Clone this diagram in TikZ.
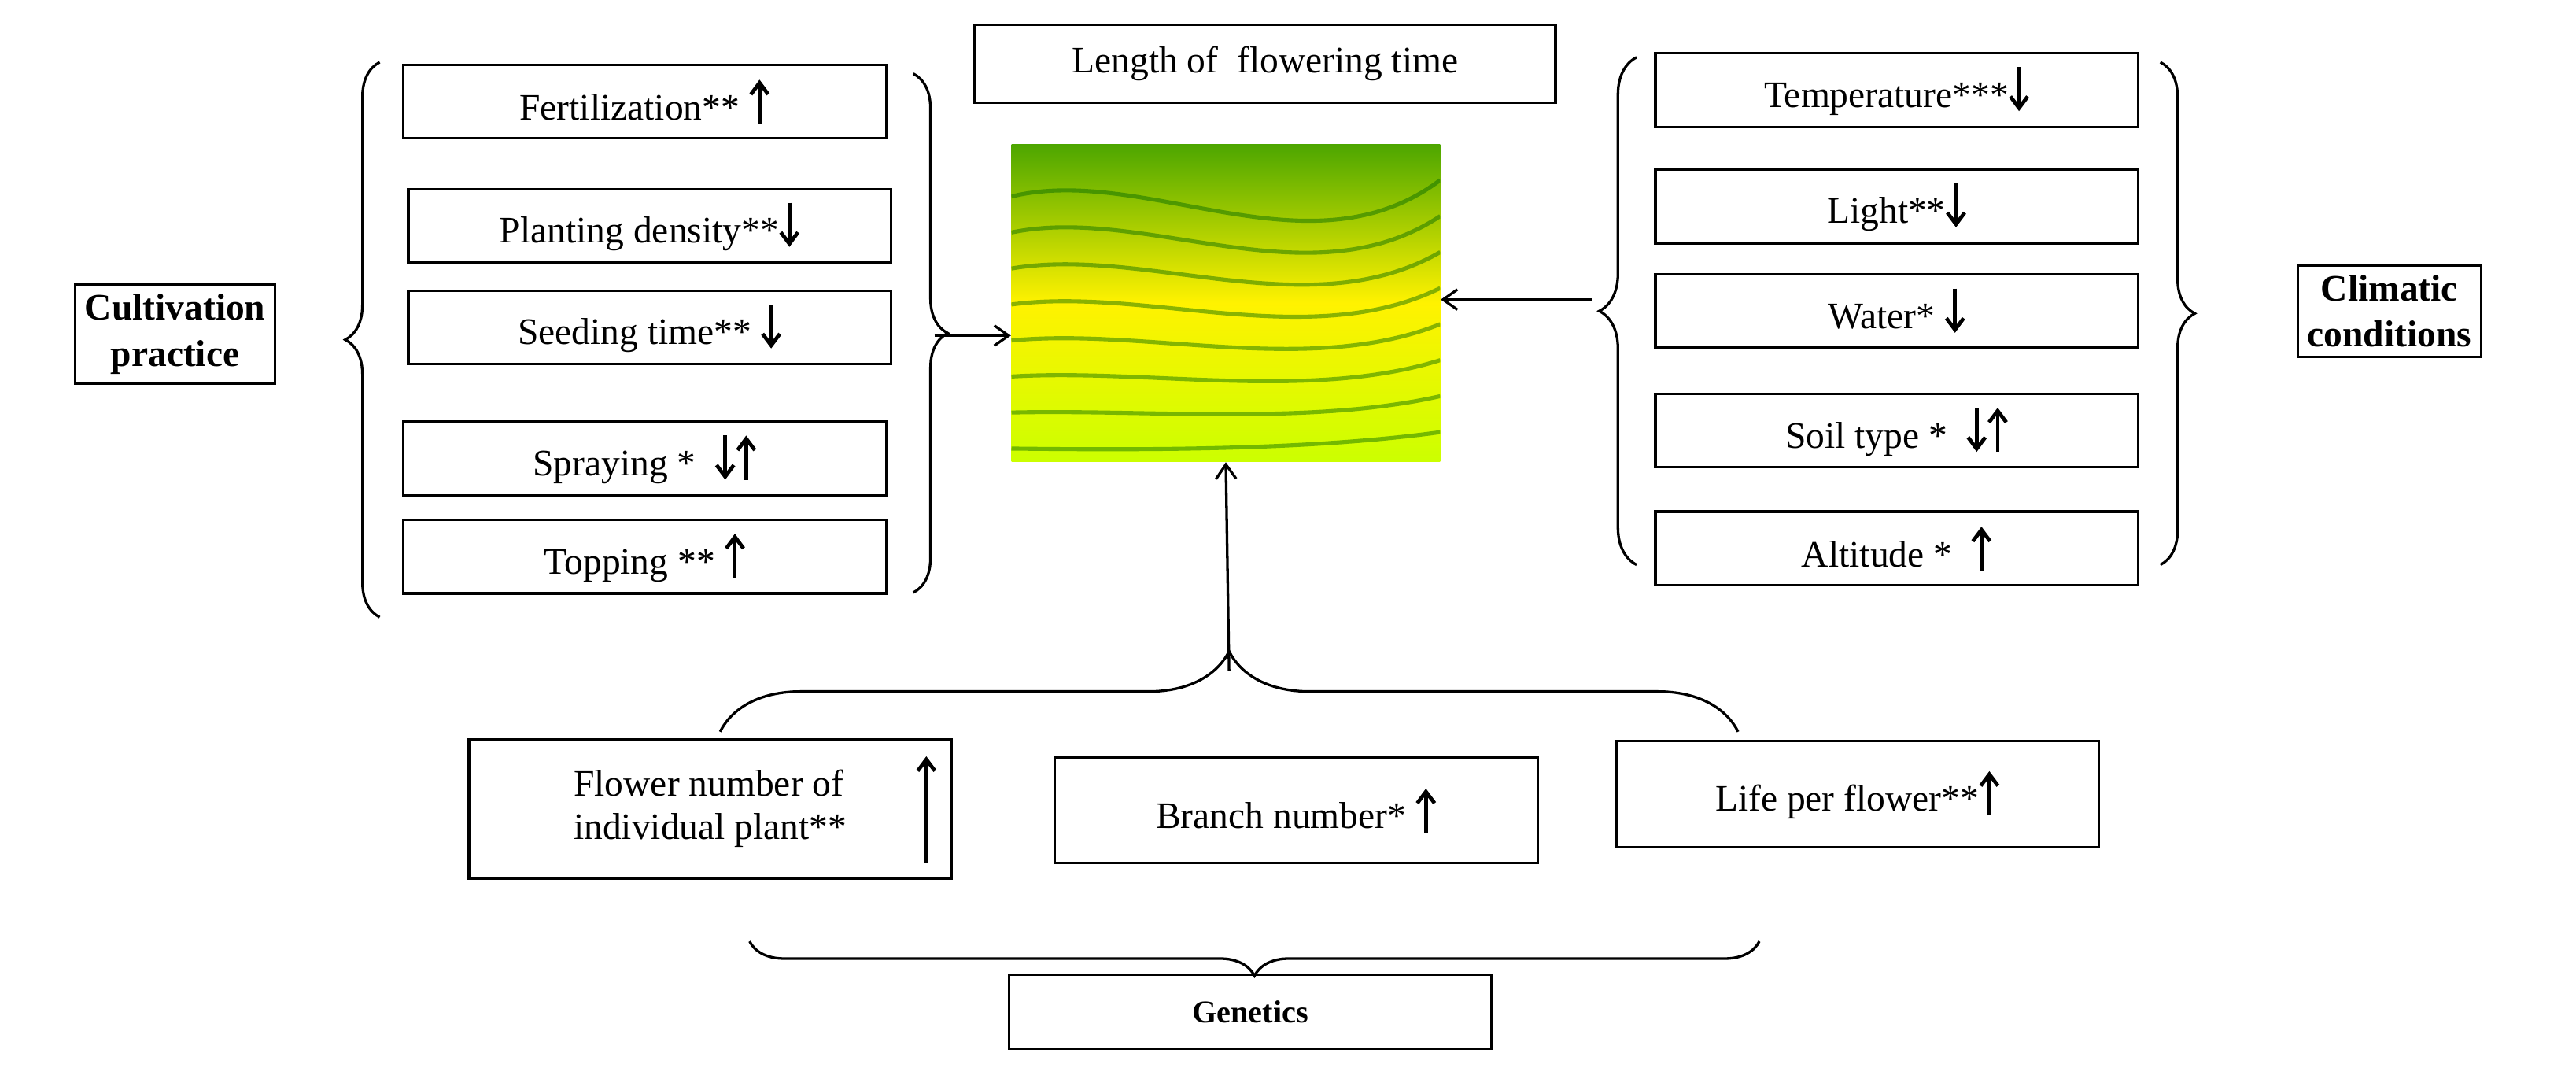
\documentclass[tikz,border=0pt]{standalone}
\usepackage{fontspec}
\setmainfont{Liberation Serif}
\usetikzlibrary{decorations.pathreplacing,arrows.meta}
\begin{document}
\begin{tikzpicture}[x=0.02cm,y=-0.02cm,
  box/.style={draw,line width=0.9pt,minimum width=5.9cm,minimum height=0.9cm,inner sep=2pt,font=\fontsize{13}{15}\selectfont},
  lbl/.style={draw,line width=0.9pt,align=center,font=\bfseries\fontsize{13}{16}\selectfont},
  br/.style={decorate,decoration={brace,amplitude=#1},line width=0.9pt},
  arr/.style={-{Straight Barb[length=5pt,width=7pt]},line width=0.9pt},
  sarr/.style={-{Straight Barb[length=4pt,width=6pt]},line width=1.3pt}]
\useasboundingbox (0,0) rectangle (1574,659);
\def\up{\tikz[baseline=-2pt,x=1cm,y=1cm]\draw[sarr] (0,-0.12)--(0,0.42);}
\def\dn{\tikz[baseline=-2pt,x=1cm,y=1cm]\draw[sarr] (0,0.42)--(0,-0.12);}
% title
\node[box,minimum width=7.1cm,minimum height=0.95cm] (title) at (773,39) {Length of\ \ flowering time};
% photo
\node[minimum width=5.24cm,minimum height=3.88cm,inner sep=0,
  top color=green!50!black!70!yellow,bottom color=yellow!80!green,middle color=yellow!90!orange] (photo) at (749,185) {};
\begin{scope}
\clip (618,88) rectangle (880,282);
\foreach \k in {0,...,7}{
  \draw[green!40!black,line width=1.4pt,opacity=0.45] (618,{120+\k*22}) .. controls (700,{100+\k*25}) and (800,{170+\k*15}) .. (880,{110+\k*22});}
\end{scope}
% left boxes
\node[box] (fert) at (394,62) {Fertilization** \up};
\node[box] (plant) at (397,138) {Planting density**\dn};
\node[box] (seed) at (397,200) {Seeding time** \dn};
\node[box] (spray) at (394,280) {Spraying * \ \dn\up};
\node[box] (top) at (394,340) {Topping ** \up};
\draw[br=12pt] (232,377) -- (232,38);
\draw[br=12pt] (558,45) -- (558,362);
\coordinate (lt) at (571,205);
\node[lbl] (cult) at (107,204) {Cultivation\\practice};
\draw[arr] (lt) -- (photo.west|-lt);
% right boxes
\node[box] (temp) at (1159,55) {Temperature***\dn};
\node[box] (light) at (1159,126) {Light**\dn};
\node[box] (water) at (1159,190) {Water* \dn};
\node[box] (soil) at (1159,263) {Soil type * \ \dn\up};
\node[box] (alt) at (1159,335) {Altitude * \ \up};
\draw[br=13pt] (1000,345) -- (1000,35);
\coordinate (rt) at (973,183);
\draw[arr] (rt) -- (photo.east|-rt);
\draw[br=12pt] (1320,38) -- (1320,345);
\node[lbl] (clim) at (1460,190) {Climatic\\conditions};
% genetics
\node[box,minimum height=1.7cm,align=left] (flow) at (434,494) {Flower number of\hspace{0.7cm}\\individual plant**\hspace{0.7cm}};
\coordinate (fa1) at (566,527); \coordinate (fa2) at (566,462);
\draw[sarr] (fa1) -- (fa2);
\node[box,minimum height=1.28cm] (branch) at (792,495) {Branch number* \up};
\node[box,minimum height=1.3cm] (life) at (1135,485) {Life per flower**\up};
\draw[br=28pt] (440,447) -- (1062,447);
\coordinate (gt) at (751,410);
\draw[arr] (gt) -- (photo.south);
\draw[br=12pt] (1075,575) -- (458,575);
\node[lbl,minimum width=5.9cm,minimum height=0.9cm,font=\bfseries\fontsize{11}{13}\selectfont] (gen) at (764,618) {Genetics};
\end{tikzpicture}
\end{document}
